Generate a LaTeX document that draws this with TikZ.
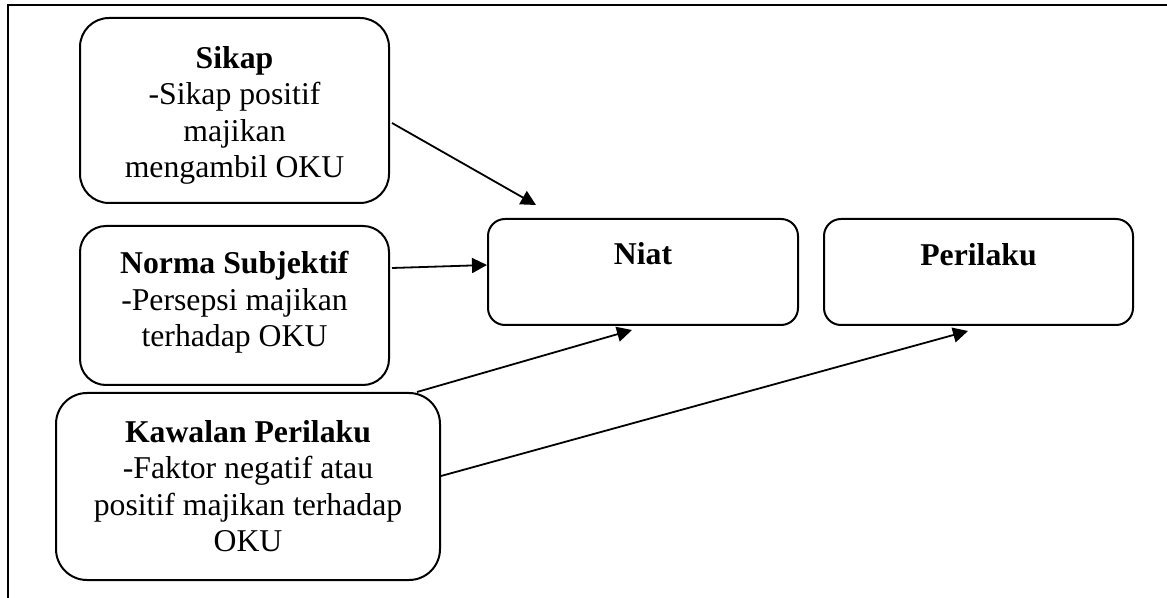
\documentclass[tikz,border=0pt]{standalone}
\usepackage{fontspec}
\setmainfont{Liberation Serif}
\usetikzlibrary{arrows.meta}

\begin{document}
\begin{tikzpicture}[x=0.75pt, y=-0.75pt,
  box/.style={draw, line width=1.5pt, rounded corners=#1, inner sep=0pt, outer sep=0pt},
  label/.style={anchor=north, align=center, inner sep=0pt,
    font=\fontsize{23.8pt}{27.4pt}\selectfont},
  link/.style={line width=1.35pt, -{Triangle[length=11.25pt, width=11.25pt]}},
  frame/.style={line width=1.5pt}
]
\useasboundingbox (0,0) rectangle (1167,598);

% outer frame (top and left sides)
\draw[frame] (8,600) -- (8,5) -- (1170,5);

% boxes
\node[box=21.75pt, minimum width=231.75pt, minimum height=138.75pt] (sikap)    at (234.5,110.5) {};
\node[box=19.5pt,  minimum width=231.75pt, minimum height=119.25pt] (norma)    at (234.5,305.5) {};
\node[box=23.25pt, minimum width=288pt,    minimum height=140.25pt] (kawalan)  at (248,486.5) {};
\node[box=12.75pt, minimum width=232.5pt,  minimum height=79.5pt]   (niat)     at (643,272) {};
\node[box=12.75pt, minimum width=231.75pt, minimum height=79.5pt]   (perilaku) at (978.5,272) {};

% box texts
\node[label] (sikapT) at (234.5,42.4)
  {\strut\textbf{Sikap}\\-Sikap positif\\majikan\\mengambil OKU};
\node[label] (normaT) at (234.5,247.9)
  {\strut\textbf{Norma Subjektif}\\-Persepsi majikan\\terhadap OKU};
\node[label] (kawalanT) at (248,416.2)
  {\strut\textbf{Kawalan Perilaku}\\-Faktor negatif atau\\positif majikan terhadap\\OKU};
\node[label] (niatT) at (643,238.4) {\strut\textbf{Niat}};
\node[label] (perilakuT) at (978.5,239.4) {\strut\textbf{Perilaku}};

% connector end points
\coordinate (s1) at (392,123);  \coordinate (e1) at (536,205);
\coordinate (s2) at (392,268);  \coordinate (e2) at (487,265);
\coordinate (s3) at (417,392);  \coordinate (e3) at (632,330);
\coordinate (s4) at (441,476);  \coordinate (e4) at (968,331);

\draw[link] (s1) -- (e1);
\draw[link] (s2) -- (e2);
\draw[link] (s3) -- (e3);
\draw[link] (s4) -- (e4);
\end{tikzpicture}
\end{document}
